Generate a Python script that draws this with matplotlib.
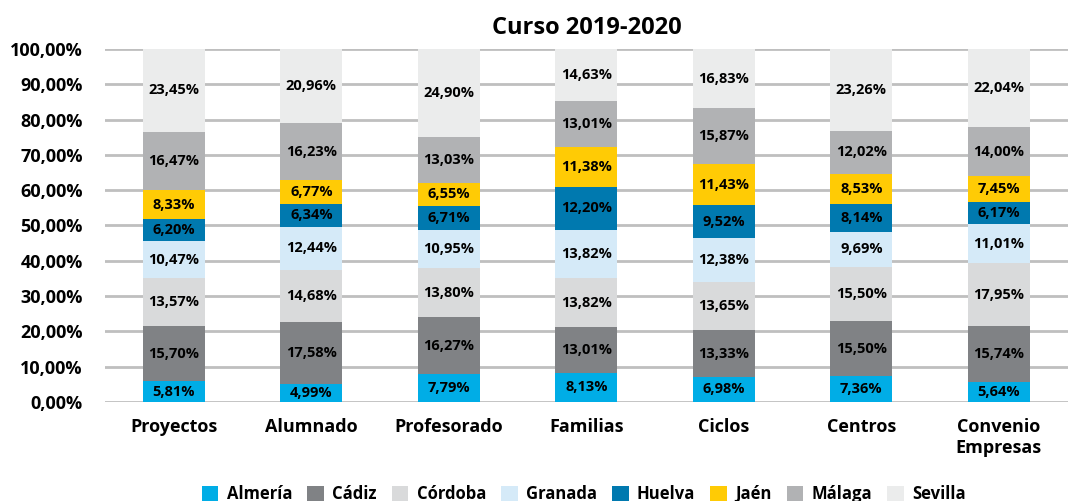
import numpy as np
import matplotlib
matplotlib.use("Agg")
import matplotlib.pyplot as plt
from matplotlib.ticker import FuncFormatter

plt.rcParams['font.family'] = ['Open Sans', 'DejaVu Sans']
plt.rcParams['font.weight'] = 'bold'

categorias = ["Proyectos", "Alumnado", "Profesorado", "Familias", "Ciclos",
              "Centros", "Convenio\nEmpresas"]
provincias = ["Almería", "Cádiz", "Córdoba", "Granada", "Huelva", "Jaén",
              "Málaga", "Sevilla"]

almeria = [5.81, 4.99, 7.79, 8.13, 6.98, 7.36, 5.64]
cadiz = [15.70, 17.58, 16.27, 13.01, 13.33, 15.50, 15.74]
cordoba = [13.57, 14.68, 13.80, 13.82, 13.65, 15.50, 17.95]
granada = [10.47, 12.44, 10.95, 13.82, 12.38, 9.69, 11.01]
huelva = [6.20, 6.34, 6.71, 12.20, 9.52, 8.14, 6.17]
jaen = [8.33, 6.77, 6.55, 11.38, 11.43, 8.53, 7.45]
malaga = [16.47, 16.23, 13.03, 13.01, 15.87, 12.02, 14.00]
sevilla = [23.45, 20.96, 24.90, 14.63, 16.83, 23.26, 22.04]

series = [almeria, cadiz, cordoba, granada, huelva, jaen, malaga, sevilla]
colores = ["#00ADE6", "#808285", "#D9DADB", "#D5EAF8", "#0079AF", "#FFCB05",
           "#B1B2B4", "#EBECEC"]

fig = plt.figure(figsize=(10.73, 5.01), dpi=100)
ax = fig.add_axes([0.098, 0.198, 0.897, 0.704])

x = np.arange(len(categorias))
base = np.zeros(len(categorias))
for nombre, vals, col in zip(provincias, series, colores):
    vals = np.array(vals) / 100.0
    ax.bar(x, vals, 0.45, bottom=base, color=col, label=nombre, zorder=3)
    for xi, b, v in zip(x, base, vals):
        ax.text(xi, b + v / 2, f"{v * 100:.2f}%".replace(".", ","),
                ha="center", va="center", fontsize=10.5, fontweight="bold",
                color="black", zorder=4)
    base = base + vals

ax.set_ylim(0, 1.0)
ax.set_xlim(-0.5, len(categorias) - 0.5)
ax.set_yticks(np.arange(0, 1.01, 0.1))
ax.yaxis.set_major_formatter(FuncFormatter(lambda v, p: f"{v * 100:.2f}%".replace(".", ",")))
ax.grid(axis="y", color="#BFBFBF", linewidth=2, zorder=0)
ax.set_xticks(x)
ax.set_xticklabels(categorias, fontsize=13, fontweight="bold", linespacing=1.15)
ax.tick_params(axis="both", length=0)
ax.tick_params(axis="y", labelsize=13, pad=16)
ax.tick_params(axis="x", pad=12)
for s in ax.spines.values():
    s.set_visible(False)

ax.set_title("Curso 2019-2020", fontsize=17, fontweight="bold", pad=11)

fig.legend(loc="center", bbox_to_anchor=(0.544, 0.014), ncol=8, frameon=False,
           fontsize=12, handlelength=1.0, handleheight=1.0, handletextpad=0.5,
           columnspacing=0.9)

fig.savefig("out.png", dpi=100)
